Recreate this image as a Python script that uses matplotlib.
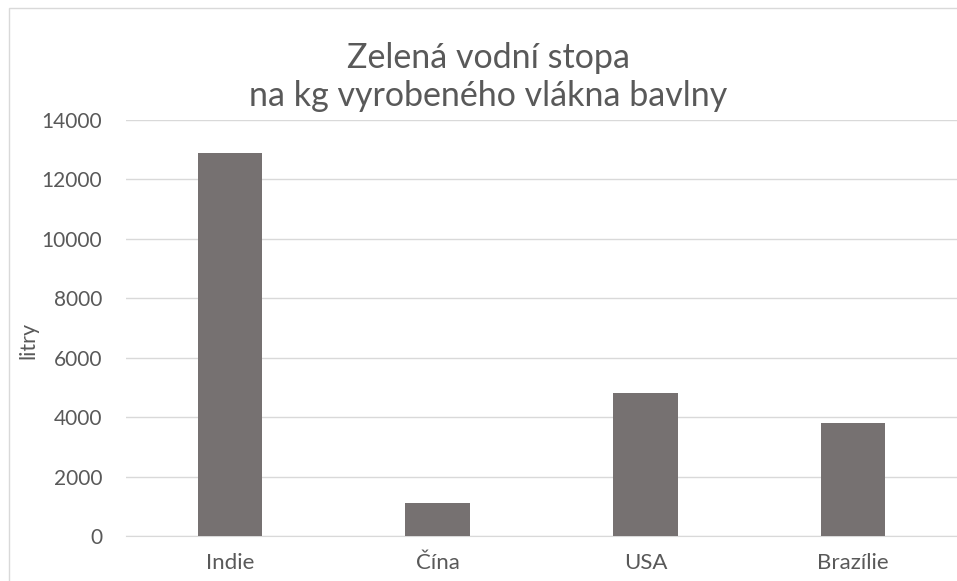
import matplotlib
matplotlib.use("Agg")
import matplotlib.pyplot as plt
from matplotlib.patches import Rectangle

categories = ["Indie", "Čína", "USA", "Brazílie"]
values = [12900, 1100, 4800, 3800]
yticks = [0, 2000, 4000, 6000, 8000, 10000, 12000, 14000]

plt.rcParams['font.family'] = ['Lato', 'DejaVu Sans']
W, H = 957, 581
fig = plt.figure(figsize=(W/100, H/100), dpi=100)
fig.patch.set_facecolor("white")

# outer chart border (cropped on right and bottom)
fig.patches.append(Rectangle((9/W, -0.1), 1.2, 1 - 8/H + 0.1, transform=fig.transFigure,
                             fill=False, edgecolor="#d9d9d9", linewidth=1.0))

ax = fig.add_axes([126/W, 1 - 536/H, (957 - 126)/W, (536 - 120)/H])
x = range(len(categories))
ax.bar(x, values, width=0.31, color="#767171", zorder=3)
ax.set_xlim(-0.5, len(categories) - 0.5)
ax.set_ylim(0, 14000)
ax.set_yticks(yticks)
ax.set_yticklabels([str(v) for v in yticks])
ax.set_xticks(list(x))
ax.set_xticklabels(categories)
ax.yaxis.grid(True, color="#d9d9d9", linewidth=1.0, zorder=0)
ax.set_axisbelow(True)
for s in ax.spines.values():
    s.set_visible(False)
ax.spines['bottom'].set_visible(True)
ax.spines['bottom'].set_color("#d9d9d9")
ax.tick_params(axis='both', length=0, colors="#595959")
ax.tick_params(axis='y', pad=17, labelsize=15)
ax.tick_params(axis='x', pad=12, labelsize=16)
ax.set_ylabel("litry", fontsize=15.5, color="#595959")
ax.yaxis.set_label_coords((38 - 126) / (957 - 126), (536 - 340) / (536 - 120))

fig.text(488/W, 1 - 77/H, "Zelená vodní stopa\nna kg vyrobeného vlákna bavlny",
         ha="center", va="center", fontsize=24.5, color="#595959", linespacing=1.2)

fig.savefig("out.png", dpi=100)
